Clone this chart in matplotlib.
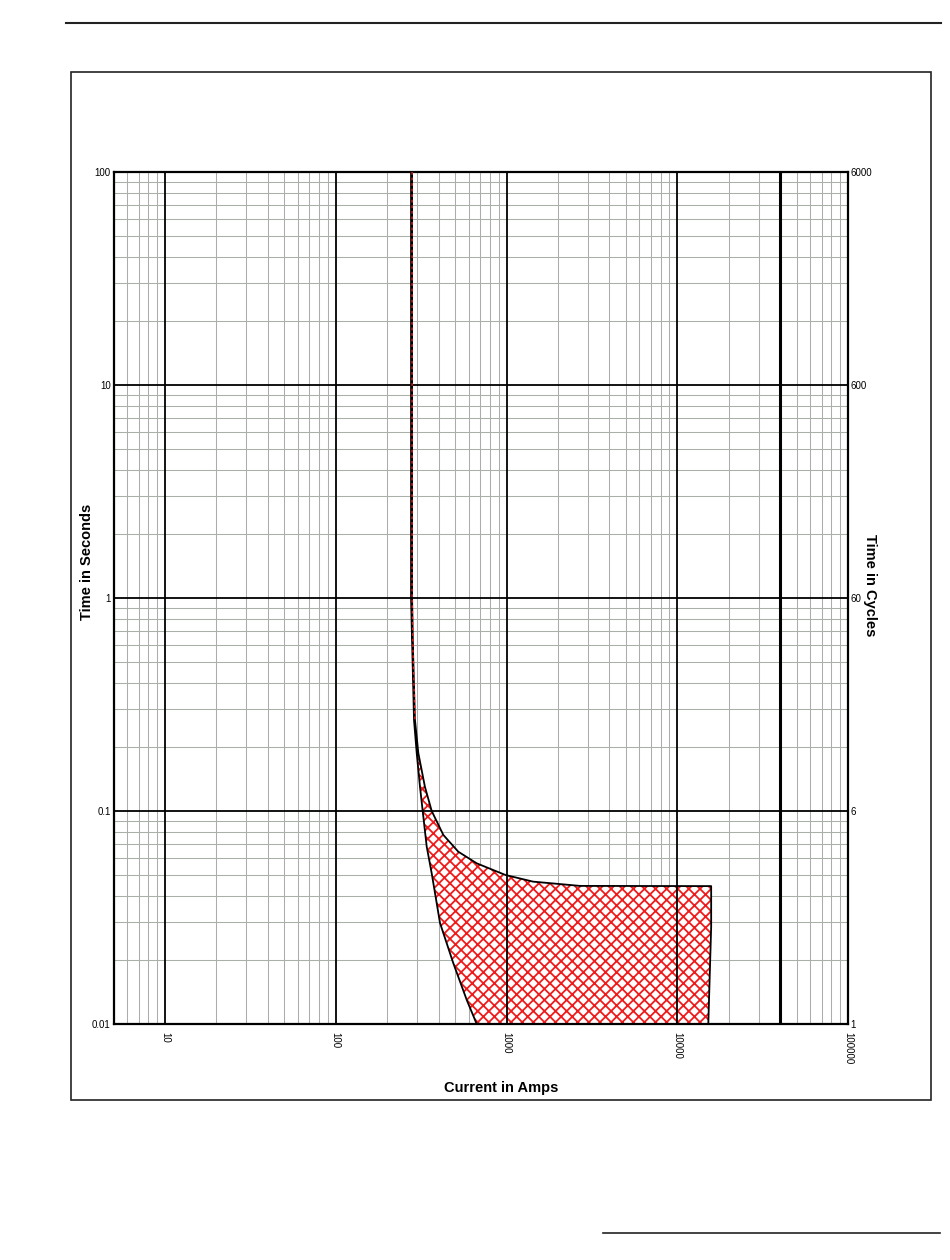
import matplotlib
matplotlib.use("Agg")
import matplotlib.pyplot as plt
from matplotlib.patches import Rectangle
from matplotlib.lines import Line2D
import numpy as np

plt.rcParams['font.family'] = ['Liberation Sans', 'DejaVu Sans']
plt.rcParams['hatch.linewidth'] = 1.3

# ---- data ----
upper_amps = [280, 280, 283.5, 291, 304.5, 333, 364.7, 426.6, 522, 669, 984, 1430, 2695, 15800]
upper_time = [100, 1, 0.570, 0.2675, 0.187, 0.1297, 0.1, 0.0772, 0.0644, 0.0568, 0.0501, 0.0466, 0.0445, 0.0444]
right_edge_amps = [15800, 15200]
right_edge_time = [0.0286, 0.01]
lower_amps = [276, 276, 287.3, 298, 311.5, 323, 341, 364.7, 407.9, 488, 585, 669]
lower_time = [100, 1, 0.2675, 0.187, 0.1297, 0.1, 0.068, 0.051, 0.0298, 0.0193, 0.01297, 0.01]

x_ticks = [10, 100, 1000, 10000, 100000]
x_tick_labels = ['10', '100', '1000', '10000', '100000']
y_ticks = [100, 10, 1, 0.1, 0.01]
y_tick_labels = ['100', '10', '1', '0.1', '0.01']
cycle_tick_labels = ['6000', '600', '60', '6', '1']
marker_current = 40000

W, H = 950, 1260
fig = plt.figure(figsize=(W / 100, H / 100), dpi=100)

def fx(px):
    return px / W

def fy(py):
    return 1 - py / H

ax = fig.add_axes([fx(113.6), fy(1024), fx(848) - fx(113.6), fy(172) - fy(1024)])
ax.set_xscale('log')
ax.set_yscale('log')
ax.set_xlim(5, 100000)
ax.set_ylim(0.01, 100)

# minor grid
ax.set_xticks(x_ticks)
ax.set_yticks(y_ticks)
ax.xaxis.set_minor_locator(matplotlib.ticker.LogLocator(base=10, subs=np.arange(2, 10)))
ax.yaxis.set_minor_locator(matplotlib.ticker.LogLocator(base=10, subs=np.arange(2, 10)))
ax.xaxis.set_minor_formatter(matplotlib.ticker.NullFormatter())
ax.yaxis.set_minor_formatter(matplotlib.ticker.NullFormatter())
ax.grid(which='minor', axis='x', color='#acacac', lw=0.75, zorder=0.5)
ax.grid(which='minor', axis='y', color='#a8b0a8', lw=0.75, zorder=0.5)
ax.set_axisbelow(True)

# major lines
for xv in x_ticks[:-1]:
    ax.axvline(xv, color='black', lw=1.3, zorder=2)
for yv in y_ticks[1:-1]:
    ax.axhline(yv, color='black', lw=1.3, zorder=2)
ax.axvline(marker_current, color='black', lw=2.2, zorder=2)

# band
poly_x = upper_amps + right_edge_amps + lower_amps[::-1]
poly_y = upper_time + right_edge_time + lower_time[::-1]
ax.fill(poly_x, poly_y, facecolor='white', edgecolor='#ee1c1c', hatch='xxx', lw=0, zorder=1)
ax.plot(poly_x + [poly_x[0]], poly_y + [poly_y[0]], color='black', lw=1.3, zorder=3)
ax.plot(upper_amps[:4], upper_time[:4], color='#ee1c1c', lw=1.0, ls=(0, (2, 2)), zorder=3.5)

for s in ax.spines.values():
    s.set_linewidth(1.6)
    s.set_color('black')

ax.tick_params(which='both', length=0)
ax.tick_params(axis='x', which='major', pad=6, labelsize=7)
ax.tick_params(axis='y', which='major', pad=2, labelsize=7)
ax.set_xticklabels(x_tick_labels, rotation=-90, va='top', ha='center')
ax.set_yticklabels(y_tick_labels)

ax2 = ax.twinx()
ax2.set_yscale('log')
ax2.set_ylim(0.01, 100)
ax2.set_yticks(y_ticks)
ax2.set_yticklabels(cycle_tick_labels)
ax2.yaxis.set_minor_formatter(matplotlib.ticker.NullFormatter())
ax2.tick_params(which='both', length=0)
ax2.tick_params(axis='y', pad=2, labelsize=7)
for s in ax2.spines.values():
    s.set_visible(False)

# axis titles
fig.text(fx(501), fy(1088), 'Current in Amps', ha='center', va='center',
         fontsize=10.5, fontweight='bold')
fig.text(fx(87), fy(562), 'Time in Seconds', ha='center', va='center',
         fontsize=10.5, fontweight='bold', rotation=90)
fig.text(fx(870), fy(585), 'Time in Cycles', ha='center', va='center',
         fontsize=10.5, fontweight='bold', rotation=270)

# frame & decorative rules
fig.patches.append(Rectangle((fx(71), fy(1100)), fx(931) - fx(71), fy(72) - fy(1100),
                             transform=fig.transFigure, fill=False, edgecolor='#222222', lw=1.2))
fig.lines.append(Line2D([fx(66), fx(941)], [fy(23), fy(23)], transform=fig.transFigure,
                        color='#222222', lw=1.5))
fig.lines.append(Line2D([fx(603), fx(940)], [fy(1233), fy(1233)], transform=fig.transFigure,
                        color='#222222', lw=1.2))

fig.savefig('out.png', dpi=100)
